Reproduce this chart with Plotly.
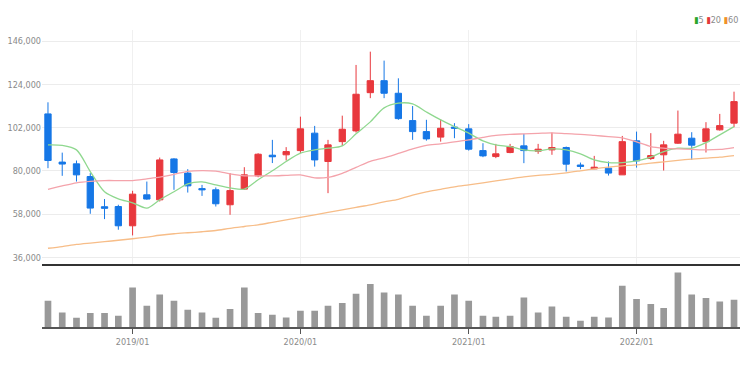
import pandas as pd
import plotly.graph_objects as go

dates = pd.date_range("2018-07-01", periods=50, freq="MS")

opens = [109000, 84500, 83600, 77150, 61800, 61900, 52100, 67850, 65300, 86100,
         78900, 71000, 70400, 62800, 70750, 77500, 88000, 88200, 90350, 99200,
         84800, 94900, 100350, 119800, 125900, 119500, 105600, 100000, 97200, 102300,
         101400, 90350, 87300, 89350, 92750, 90050, 90700, 91900, 83000, 81050,
         81400, 78000, 95300, 86300, 88200, 94100, 96650, 94900, 100900, 104300]
highs = [114900, 89300, 85300, 78900, 65700, 62800, 69900, 74600, 86800, 86500,
         80900, 72900, 71600, 78900, 81900, 89000, 95800, 92100, 107600, 102900,
         95800, 108100, 133900, 140650, 136100, 127100, 113000, 106000, 106300, 104300,
         103800, 94100, 93750, 93750, 98850, 93750, 99500, 92400, 84250, 87650,
         84800, 97800, 100000, 99200, 95300, 110700, 99700, 104800, 109000, 120300]
lows = [81400, 77500, 74600, 58200, 55500, 50100, 47200, 65300, 64450, 70400,
        69000, 67300, 61900, 57700, 70400, 76800, 84000, 85300, 89000, 82200,
        68700, 92700, 99500, 117000, 117000, 106000, 95800, 95400, 94900, 96650,
        90350, 87000, 86500, 89000, 83950, 88700, 88200, 79700, 80900, 80900,
        77650, 78000, 81700, 85600, 80200, 93750, 85600, 89350, 100500, 102250]
closes = [85300, 83500, 78000, 61100, 61000, 52100, 68200, 65700, 85600, 79200,
          72400, 70400, 63300, 70000, 78000, 88500, 87200, 89850, 101400, 85600,
          93250, 101200, 119000, 125900, 119500, 106600, 100000, 96300, 101700, 101700,
          91050, 87650, 88700, 92400, 90350, 91050, 91900, 83450, 82300, 81900,
          78900, 94900, 85100, 87800, 93250, 98700, 93100, 101400, 103050, 115250]

ma5 = [93250, 93000, 90700, 79700, 69400, 65800, 63800, 61100, 65300, 69400,
       73450, 74450, 72900, 71400, 70750, 75500, 80050, 84800, 89050, 90700,
       91550, 92750, 98850, 104950, 112050, 114450, 114100, 110000, 105950, 102550,
       99200, 95300, 93250, 92400, 90700, 90200, 91200, 90700, 88700, 85600,
       84250, 84250, 85100, 87000, 89850, 91550, 91550, 94400, 98350, 102550]
ma20 = [70650, 72400, 73950, 74700, 75100, 75100, 75100, 76000, 76850, 78250,
        79800, 80200, 79900, 78500, 77500, 77500, 77500, 77750, 78000, 76500,
        76750, 78800, 81800, 84900, 86650, 88900, 91200, 93000, 93750, 94800,
        95800, 97050, 98050, 98600, 98850, 99100, 99350, 98950, 98600, 98050,
        97450, 96800, 94800, 92400, 91550, 91200, 90950, 90700, 90950, 91900]
ma60 = [40670, 41540, 42600, 43300, 44000, 44740, 45500, 46360, 47280, 48040,
        48550, 49060, 49700, 50830, 51750, 52600, 53880, 55150, 56420, 57700,
        58960, 60230, 61500, 62770, 64300, 65570, 67700, 69380, 70650, 71920,
        72930, 73950, 74960, 75980, 77000, 77760, 78270, 79030, 80040, 81060,
        81920, 82580, 83090, 83950, 84600, 85380, 85990, 86500, 87000, 87820]

volumes = [2630000, 1460000, 930000, 1400000, 1400000, 1130000, 3960000, 2130000, 3260000, 2630000,
           1730000, 1460000, 930000, 1800000, 3960000, 1400000, 1230000, 960000, 1630000, 1630000,
           2130000, 2400000, 3330000, 4300000, 3460000, 3260000, 2130000, 1130000, 2130000, 3260000,
           2630000, 1130000, 1030000, 1130000, 2960000, 1460000, 2060000, 1030000, 630000, 1030000,
           960000, 4130000, 2800000, 2300000, 1900000, 5460000, 3260000, 2900000, 2560000, 2730000]

price_ticks = [36000, 58000, 80000, 102000, 124000, 146000]
ma_names = ["5", "20", "60"]

RED = "#e8383d"
BLUE = "#1677e6"
FONT = "Liberation Sans Narrow, DejaVu Sans Condensed, sans-serif"
tick_font = dict(family=FONT, size=9, color="#8a8a8a")

fig = go.Figure()

fig.add_trace(go.Candlestick(
    x=dates, open=opens, high=highs, low=lows, close=closes,
    increasing=dict(line=dict(color=RED, width=1), fillcolor=RED),
    decreasing=dict(line=dict(color=BLUE, width=1), fillcolor=BLUE),
    whiskerwidth=0, showlegend=False, xaxis="x", yaxis="y",
))

for vals, col in zip([ma5, ma20, ma60], ["#8fd88f", "#f4a3ab", "#f7bd88"]):
    fig.add_trace(go.Scatter(x=dates, y=vals, mode="lines",
                             line=dict(color=col, width=1.3, shape="spline", smoothing=0.8),
                             showlegend=False, hoverinfo="skip", xaxis="x", yaxis="y"))

fig.add_trace(go.Bar(x=dates, y=volumes, marker=dict(color="#999999", line=dict(width=0)),
                     width=14.5 * 86400000, showlegend=False, xaxis="x2", yaxis="y2"))

legend_cols = ["#2aa52a", "#e23a3a", "#f0902a"]
legend_text = " ".join(
    f"<span style='color:{c}'>▮</span>{n}" for c, n in zip(legend_cols, ma_names)
)
fig.add_annotation(text=legend_text, xref="paper", yref="paper", x=1.0, y=1.0,
                   xanchor="right", yanchor="bottom", yshift=3, showarrow=False,
                   font=dict(family=FONT, size=9, color="#8a8a8a"))

vol_dom = 0.213
xr = ["2018-06-18", "2022-08-14"]
fig.update_layout(
    width=756, height=368,
    margin=dict(l=42, r=16, t=30, b=41),
    paper_bgcolor="white", plot_bgcolor="white",
    xaxis=dict(domain=[0, 1], anchor="y", range=xr, type="date",
               showticklabels=False, showgrid=True, gridcolor="#f0f0f0", gridwidth=1,
               dtick="M12", tick0="2019-01-01", ticks="", automargin=False,
               showline=True, linecolor="#333333", linewidth=2,
               rangeslider=dict(visible=False), zeroline=False),
    yaxis=dict(domain=[vol_dom, 1], anchor="x", range=[32800, 151670],
               tickvals=price_ticks, tickformat=",d", tickfont=tick_font,
               showgrid=True, gridcolor="#ececec", gridwidth=1, zeroline=False,
               ticks="", showline=False, automargin=False),
    xaxis2=dict(domain=[0, 1], anchor="y2", range=xr, type="date", matches="x",
                dtick="M12", tick0="2019-01-01", tickformat="%Y/%m",
                tickfont=tick_font, showgrid=False, ticks="outside", ticklen=5,
                tickcolor="#555555", showline=True, linecolor="#555555", linewidth=2,
                zeroline=False, automargin=False),
    yaxis2=dict(domain=[0, vol_dom], anchor="x2", range=[0, 6330000],
                visible=False, showgrid=False, zeroline=False),
    bargap=0.5,
)

fig.write_html("out.html", config={"displayModeBar": False},
               post_script="document.body.style.margin='0';")
